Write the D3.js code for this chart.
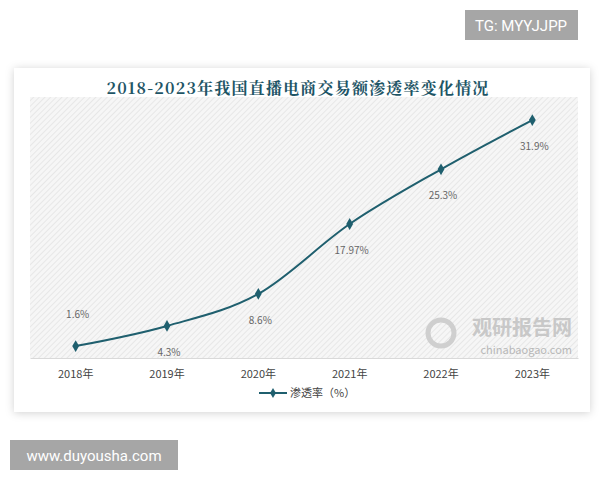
<!DOCTYPE html>
<html><head><meta charset="utf-8">
<script src="https://cdn.jsdelivr.net/npm/d3@7"></script>
<style>body{margin:0;background:#fff}</style>
</head><body>
<div id="chart"></div>
<script>
const years = ["2018年", "2019年", "2020年", "2021年", "2022年", "2023年"]
const rates = [1.6, 4.3, 8.6, 17.97, 25.3, 31.9]
const labels = ["1.6%", "4.3%", "8.6%", "17.97%", "25.3%", "31.9%"]
const labelAbove = [true, false, false, false, false, false]

const svg = d3.select("#chart").append("svg").attr("width", 600).attr("height", 480)
  .style("font-family", "'Noto Sans CJK SC', sans-serif")

const defs = svg.append("defs")
const f = defs.append("filter").attr("id", "sh").attr("x", "-5%").attr("y", "-5%").attr("width", "110%").attr("height", "110%")
f.append("feDropShadow").attr("dx", 0).attr("dy", 1).attr("stdDeviation", 4).attr("flood-color", "#000").attr("flood-opacity", 0.18)
const p = defs.append("pattern").attr("id", "hatch").attr("width", 4).attr("height", 4)
  .attr("patternUnits", "userSpaceOnUse").attr("patternTransform", "rotate(45)")
p.append("rect").attr("width", 4).attr("height", 4).attr("fill", "#f6f6f6")
p.append("line").attr("x1", 0).attr("y1", 0).attr("x2", 0).attr("y2", 4).attr("stroke", "#dedede").attr("stroke-width", 1.2)

// watermark boxes
svg.append("rect").attr("x", 465).attr("y", 10).attr("width", 113).attr("height", 30).attr("fill", "#a6a6a6")
svg.append("text").attr("x", 521).attr("y", 31).attr("text-anchor", "middle").attr("fill", "#fff")
  .attr("font-size", 15).style("font-family", "Roboto, sans-serif").text("TG: MYYJJPP")
svg.append("rect").attr("x", 10).attr("y", 440).attr("width", 168).attr("height", 30).attr("fill", "#a6a6a6")
svg.append("text").attr("x", 94).attr("y", 461).attr("text-anchor", "middle").attr("fill", "#fff")
  .attr("font-size", 15).style("font-family", "Roboto, sans-serif").text("www.duyousha.com")

// card
svg.append("rect").attr("x", 14).attr("y", 68).attr("width", 576).attr("height", 344).attr("fill", "#fff").attr("filter", "url(#sh)")

svg.append("text").attr("x", 298).attr("y", 94).attr("text-anchor", "middle").attr("fill", "#1e5566")
  .attr("font-size", 16).attr("font-weight", "bold").attr("letter-spacing", 1.2)
  .style("font-family", "'Noto Serif CJK SC', 'Noto Sans CJK SC', serif")
  .text("2018-2023年我国直播电商交易额渗透率变化情况")

const L = 30, R = 578, T = 97, B = 358
svg.append("rect").attr("x", L).attr("y", T).attr("width", R - L).attr("height", B - T).attr("fill", "url(#hatch)")

const x = d3.scaleBand().domain(years).range([L, R])
const y = d3.scaleLinear().domain([0, 35]).range([B, T])
const cx = d => x(d) + x.bandwidth() / 2

// watermark logo
svg.append("text").attr("x", 572).attr("y", 335).attr("text-anchor", "end").attr("fill", "#c8c8c8")
  .attr("font-size", 20).attr("font-weight", "bold").text("观研报告网")
svg.append("text").attr("x", 572).attr("y", 354).attr("text-anchor", "end").attr("fill", "#b8b8b8")
  .attr("font-size", 11).text("chinabaogao.com")
svg.append("circle").attr("cx", 441).attr("cy", 333).attr("r", 13).attr("fill", "none").attr("stroke", "#cfcfcf").attr("stroke-width", 5)

const xAxis = svg.append("g").attr("transform", `translate(0,${B})`)
  .call(d3.axisBottom(x).tickSize(0).tickPadding(12))
xAxis.select(".domain").attr("stroke", "#d9d9d9")
xAxis.selectAll("text").attr("font-size", 11).attr("fill", "#444").style("font-family", "'Noto Sans CJK SC', sans-serif")

const pts = years.map((d, i) => [cx(d), y(rates[i])])
const color = "#1f5f6e"
svg.append("path").attr("d", d3.line().curve(d3.curveMonotoneX)(pts))
  .attr("fill", "none").attr("stroke", color).attr("stroke-width", 2)
svg.selectAll(".m").data(pts).enter().append("path")
  .attr("d", d3.symbol(d3.symbolDiamond, 40)).attr("transform", d => `translate(${d[0]},${d[1]})`).attr("fill", color)

svg.selectAll(".lbl").data(years).enter().append("text")
  .attr("x", d => cx(d) + 2)
  .attr("y", (d, i) => y(rates[i]) + (labelAbove[i] ? -28 : 30))
  .attr("text-anchor", "middle").attr("font-size", 10).attr("fill", "#666")
  .text((d, i) => labels[i])

// legend
svg.append("line").attr("x1", 259).attr("x2", 287).attr("y1", 393).attr("y2", 393).attr("stroke", color).attr("stroke-width", 2)
svg.append("path").attr("d", d3.symbol(d3.symbolDiamond, 30)).attr("transform", "translate(273,393)").attr("fill", color)
svg.append("text").attr("x", 290).attr("y", 397).attr("font-size", 11).attr("fill", "#444").text("渗透率（%）")
</script>
</body></html>
